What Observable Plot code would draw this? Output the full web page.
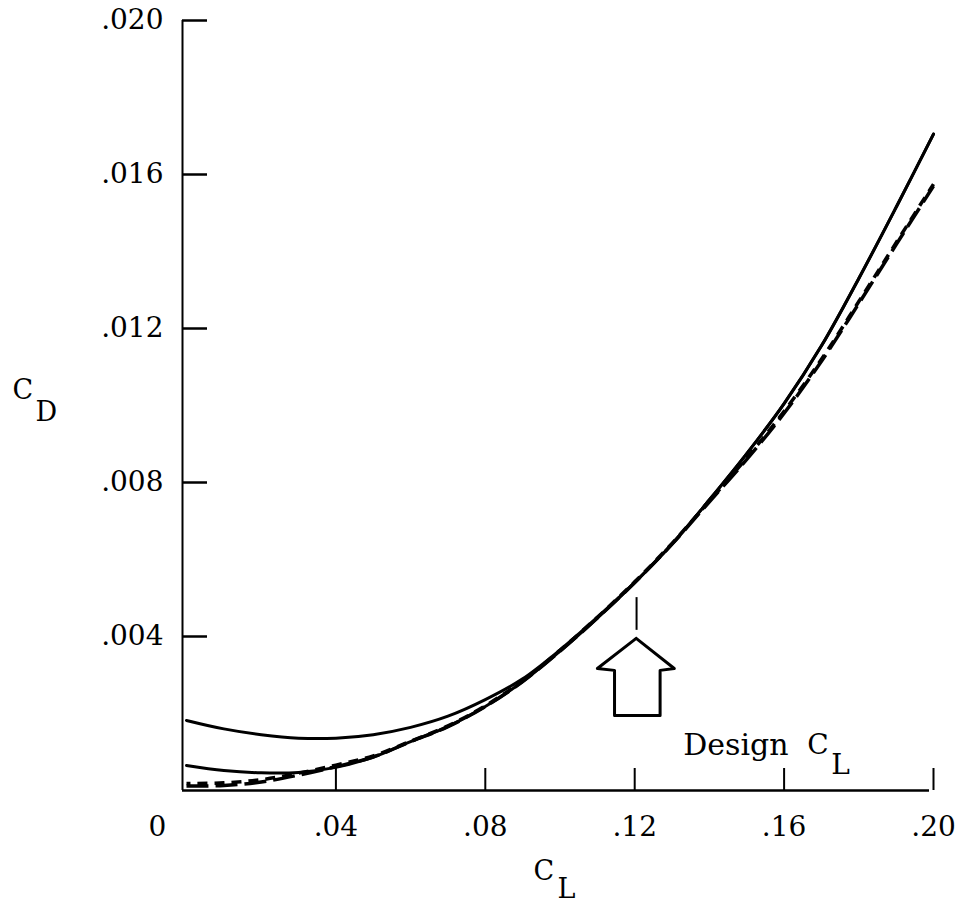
<!DOCTYPE html>
<html><head><meta charset="utf-8">
<script src="https://cdn.jsdelivr.net/npm/d3@7"></script>
<script src="https://cdn.jsdelivr.net/npm/@observablehq/plot@0.6"></script>
<style>body{margin:0;background:#fff} svg{display:block}</style>
</head><body><div id="chart"></div>
<script>
// Lift coefficient samples
const clValues = [0,0.01,0.02,0.03,0.04,0.05,0.06,0.07,0.08,0.09,0.10,0.11,0.12,0.13,0.14,0.15,0.16,0.17,0.18,0.19,0.20];
// Drag coefficient series
const cdSolidUpper = [0.00182,0.00160,0.00145,0.00136,0.00136,0.00145,0.00164,0.00193,0.00236,0.00290,0.00365,0.00450,0.00540,0.00640,0.00755,0.00875,0.01005,0.01155,0.01330,0.01515,0.01705];
const cdSolidLower = [0.00065,0.00052,0.00046,0.00047,0.00060,0.00087,0.00127,0.00166,0.00218,0.00283,0.00362,0.00448,0.00540,0.00640,0.00755,0.00875,0.01005,0.01155,0.01330,0.01515,0.01705];
const cdDashLong   = [0.00012,0.00013,0.00022,0.00040,0.00062,0.00087,0.00127,0.00166,0.00218,0.00283,0.00362,0.00448,0.00540,0.00640,0.00750,0.00860,0.00980,0.01115,0.01265,0.01418,0.01570];
const cdDashShort  = [0.00018,0.00020,0.00028,0.00045,0.00066,0.00090,0.00128,0.00168,0.00220,0.00285,0.00364,0.00450,0.00542,0.00642,0.00752,0.00864,0.00985,0.01120,0.01270,0.01423,0.01575];

const xTicks = [0.04,0.08,0.12,0.16,0.20];
const xTickLabels = [".04",".08",".12",".16",".20"];
const yTicks = [0.004,0.008,0.012,0.016,0.020];
const yTickLabels = [".004",".008",".012",".016",".020"];

// Design C_L annotation (data units)
const designCL = 0.1205;
const designTickCD = [0.00416, 0.00501];
const arrowCL = [0.1204,0.1306,0.1268,0.1268,0.1146,0.1146,0.1100,0.1204];
const arrowCD = [0.00395,0.00317,0.00312,0.00195,0.00195,0.00312,0.00317,0.00395];
const designLabelCL = 0.1330;
const designLabelCD = 0.00118;

const rows = (ys) => clValues.map((x, i) => ({cl: x, cd: ys[i]}));
const arrowRows = arrowCL.map((x, i) => ({cl: x, cd: arrowCD[i]}));
const xLab = d => xTickLabels[xTicks.indexOf(d)];
const yLab = d => yTickLabels[yTicks.indexOf(d)];

const lineOpts = {x: "cl", y: "cd", stroke: "#000", strokeWidth: 3, curve: "catmull-rom", strokeLinecap: "round"};

const plot = Plot.plot({
  width: 957, height: 905,
  marginLeft: 186, marginRight: 24, marginTop: 20, marginBottom: 115,
  x: {domain: [0, 0.2], label: null},
  y: {domain: [0, 0.02], label: null},
  style: {fontFamily: "DejaVu Serif", fontSize: "27px", color: "#000", background: "#fff"},
  marks: [
    Plot.axisX(xTicks, {tickSize: 0, tickPadding: 26, tickFormat: xLab, fontSize: 28, label: null}),
    Plot.axisY(yTicks, {tickSize: 0, tickPadding: 23, tickFormat: yLab, fontSize: 28, label: null}),
    Plot.text(["0"], {frameAnchor: "bottom-left", dx: -38, dy: 26, lineAnchor: "top", fontSize: 28}),
    // axis lines
    Plot.ruleY([0], {strokeWidth: 2.5, dx: -4, x1: 0, x2: 0.2}),
    Plot.ruleX([0], {y1: 0, y2: 0.02, strokeWidth: 2, dx: -4}),
    // inward ticks
    Plot.tickX(xTicks, {insetTop: 748, strokeWidth: 2}),
    Plot.tickY(yTicks, {insetRight: 722, dx: -4, strokeWidth: 2.5}),
    // curves
    Plot.line(rows(cdSolidUpper), lineOpts),
    Plot.line(rows(cdSolidLower), lineOpts),
    Plot.line(rows(cdDashLong), {...lineOpts, strokeDasharray: "22,7", strokeLinecap: "butt", strokeWidth: 3.5}),
    Plot.line(rows(cdDashShort), {...lineOpts, strokeDasharray: "10,7", strokeDashoffset: 6, strokeLinecap: "butt", strokeWidth: 3.5}),
    // design C_L marker
    Plot.ruleX([designCL], {y1: designTickCD[0], y2: designTickCD[1], strokeWidth: 2}),
    Plot.line(arrowRows, {x: "cl", y: "cd", strokeWidth: 3, strokeLinejoin: "round"}),
    Plot.text(["Design"], {x: () => designLabelCL, y: () => designLabelCD, textAnchor: "start", fontSize: 30}),
    Plot.text(["C"], {x: () => designLabelCL, y: () => designLabelCD, textAnchor: "start", fontSize: 28, dx: 124}),
    Plot.text(["L"], {x: () => designLabelCL, y: () => designLabelCD, textAnchor: "start", fontSize: 28, dx: 148, dy: 20}),
    // axis titles
    Plot.text(["C"], {frameAnchor: "top-left", dx: -174, dy: 359, textAnchor: "start", lineAnchor: "top", fontSize: 27}),
    Plot.text(["D"], {frameAnchor: "top-left", dx: -151, dy: 381, textAnchor: "start", lineAnchor: "top", fontSize: 27}),
    Plot.text(["C"], {frameAnchor: "bottom-left", dx: 347, dy: 70, textAnchor: "start", lineAnchor: "top", fontSize: 27}),
    Plot.text(["L"], {frameAnchor: "bottom-left", dx: 371, dy: 88, textAnchor: "start", lineAnchor: "top", fontSize: 27})
  ]
});
document.getElementById("chart").appendChild(plot);
</script>
</body></html>
